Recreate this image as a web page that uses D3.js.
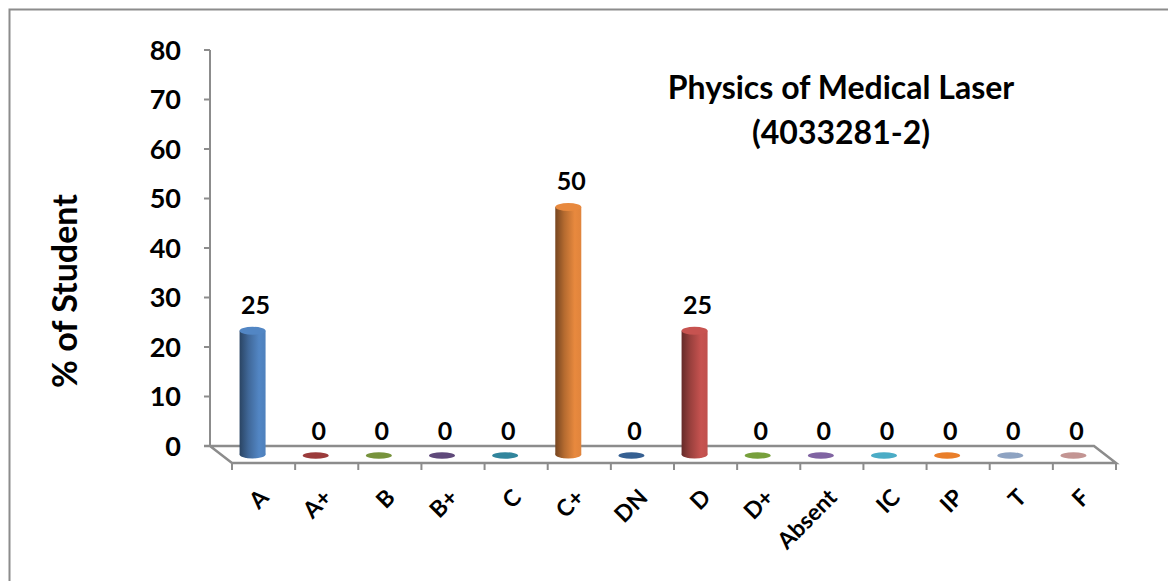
<!DOCTYPE html>
<html><head><meta charset="utf-8">
<script src="https://cdn.jsdelivr.net/npm/d3@7"></script>
<style>body{margin:0;background:#fff}svg{display:block}text{font-family:Lato,"Open Sans",sans-serif;font-weight:bold;fill:#000}</style>
</head><body>
<svg id="c" width="1168" height="581"></svg>
<script>
const categories = ["A","A+","B","B+","C","C+","DN","D","D+","Absent","IC","IP","T","F"];
const values = [25,0,0,0,0,50,0,25,0,0,0,0,0,0];
const colors = ["#4f81bd","#9b3b3b","#77933c","#5f497a","#31859c","#e0843c","#366092","#c0504d","#77a03c","#8064a2","#4bacc6","#e97e2a","#8ea3c2","#c39593"];
const yTicks = [0,10,20,30,40,50,60,70,80];
const title = ["Physics of Medical Laser","(4033281-2)"];
const yLabel = "% of Student";

const svg = d3.select("#c");
const defs = svg.append("defs");
svg.append("rect").attr("x",9.5).attr("y",9.5).attr("width",1200).attr("height",700)
  .attr("fill","none").attr("stroke","#8c8c8c").attr("stroke-width",2);

const backX0 = 210, dx = 22, dy = 17;
const x = d3.scaleBand().domain(categories).range([0, 884]);
const y = d3.scaleLinear().domain([0,80]).range([446,50]);
const axisColor = "#8c8c8c";

// y axis
svg.append("line").attr("x1",backX0).attr("x2",backX0).attr("y1",y(80)).attr("y2",y(0)).attr("stroke",axisColor).attr("stroke-width",2);
const yt = svg.append("g");
yTicks.forEach(t=>{
  yt.append("line").attr("x1",backX0-6).attr("x2",backX0).attr("y1",y(t)).attr("y2",y(t)).attr("stroke",axisColor).attr("stroke-width",2);
  yt.append("text").attr("x",181).attr("y",y(t)).attr("dy","0.36em").attr("text-anchor","end").attr("font-size",27).text(t);
});

// floor
const bx1 = backX0, bx2 = backX0 + x.range()[1];
svg.append("path").attr("d",`M${bx1-6},${y(0)} L${bx2},${y(0)} L${bx2+dx},${y(0)+dy} L${bx1+dx},${y(0)+dy} L${bx1},${y(0)}`)
  .attr("fill","none").attr("stroke",axisColor).attr("stroke-width",2.5);
categories.concat([null]).forEach((c,i)=>{
  const xx = bx1 + dx + (c===null ? x.range()[1] : x(c));
  svg.append("line").attr("x1",xx).attr("x2",xx).attr("y1",y(0)+dy).attr("y2",y(0)+dy+7).attr("stroke",axisColor).attr("stroke-width",2);
});

// bars
const bw = 26, ry = 4;
categories.forEach((c,i)=>{
  const col = d3.color(colors[i]);
  const cx = bx1 + dx/2 + x(c) + x.bandwidth()/2;
  const base = y(0) + dy/2;
  const h = y(0) - y(values[i]);
  const top = base - h;
  const g = svg.append("g");
  if (values[i] > 0) {
    const gid = "g"+i;
    const lg = defs.append("linearGradient").attr("id",gid).attr("x1","0").attr("x2","1").attr("y1","0").attr("y2","0");
    lg.append("stop").attr("offset","0").attr("stop-color",col.darker(1.8));
    lg.append("stop").attr("offset","0.35").attr("stop-color",col.darker(0.6));
    lg.append("stop").attr("offset","0.75").attr("stop-color",col.brighter(0.1));
    lg.append("stop").attr("offset","1").attr("stop-color",col);
    g.append("ellipse").attr("cx",cx).attr("cy",base).attr("rx",bw/2).attr("ry",ry).attr("fill",`url(#${gid})`);
    g.append("rect").attr("x",cx-bw/2).attr("y",top).attr("width",bw).attr("height",h).attr("fill",`url(#${gid})`);
    g.append("ellipse").attr("cx",cx).attr("cy",top).attr("rx",bw/2).attr("ry",ry).attr("fill",col.brighter(0.1));
  } else {
    g.append("ellipse").attr("cx",cx).attr("cy",base+1).attr("rx",13).attr("ry",3.2).attr("fill",col);
  }
  svg.append("text").attr("x",cx+3).attr("y",top - (values[i]>0?17:14.5)).attr("text-anchor","middle").attr("font-size",25).text(values[i]);
  // x label
  const lx = bx1 + dx + x(c) + x.bandwidth()/2 + 6.5;
  svg.append("text").attr("transform",`translate(${lx},${y(0)+dy+36}) rotate(-45)`).attr("text-anchor","end").attr("font-size",23).text(c);
});

// title
svg.append("text").attr("x",841).attr("y",99).attr("text-anchor","middle").attr("font-size",32).text(title[0]);
svg.append("text").attr("x",841).attr("y",144).attr("text-anchor","middle").attr("font-size",32).text(title[1]);
// y label
svg.append("text").attr("transform","translate(77,291) rotate(-90)").attr("text-anchor","middle").attr("font-size",34).text(yLabel);
</script>
</body></html>
